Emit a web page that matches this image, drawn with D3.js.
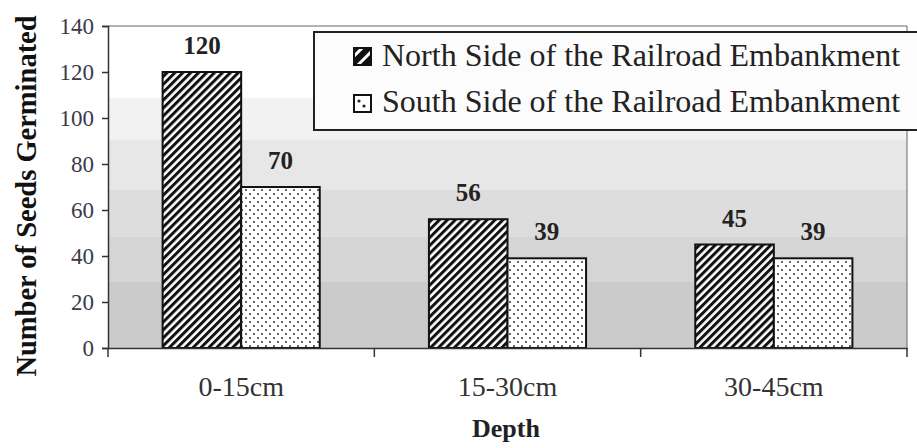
<!DOCTYPE html>
<html><head><meta charset="utf-8">
<script src="https://cdn.jsdelivr.net/npm/d3@7"></script>
<style>html,body{margin:0;padding:0;background:#fff;}svg{display:block;}</style>
</head><body>
<script>
const categories = ["0-15cm", "15-30cm", "30-45cm"];
const seriesNames = ["North Side of the Railroad Embankment", "South Side of the Railroad Embankment"];
const northValues = [120, 56, 45];
const southValues = [70, 39, 39];
const yTicks = [0, 20, 40, 60, 80, 100, 120, 140];
const yTitle = "Number of Seeds Germinated";
const xTitle = "Depth";

(function(){
const W = 917, H = 448;
const pL = 108, pR = 907, pT = 26, pB = 348;
const serif = "'Liberation Serif','Times New Roman',Times,serif";

const svg = d3.select("body").append("svg").attr("width", W).attr("height", H);
const defs = svg.append("defs");

const bg = defs.append("linearGradient").attr("id","bg").attr("x1",0).attr("y1",0).attr("x2",0).attr("y2",1);
const bandStops = [[0,"#ffffff"],[0.225,"#ffffff"],[0.225,"#f2f2f2"],[0.355,"#f2f2f2"],[0.355,"#e7e7e7"],[0.51,"#e7e7e7"],[0.51,"#dddddd"],[0.655,"#dddddd"],[0.655,"#d5d5d5"],[0.795,"#d5d5d5"],[0.795,"#cbcbcb"],[1,"#cbcbcb"]];
bandStops.forEach(s => bg.append("stop").attr("offset", s[0]).attr("stop-color", s[1]));

const hatch = defs.append("pattern").attr("id","hatch").attr("patternUnits","userSpaceOnUse")
  .attr("width",5.6).attr("height",5.6).attr("patternTransform","rotate(45)");
hatch.append("rect").attr("width",5.6).attr("height",5.6).attr("fill","#fff");
hatch.append("rect").attr("width",3).attr("height",5.6).attr("fill","#111");

const dots = defs.append("pattern").attr("id","dots").attr("patternUnits","userSpaceOnUse")
  .attr("width",8).attr("height",8);
dots.append("rect").attr("width",8).attr("height",8).attr("fill","#fff");
dots.append("circle").attr("cx",2).attr("cy",2).attr("r",1).attr("fill","#333");
dots.append("circle").attr("cx",6).attr("cy",6).attr("r",1).attr("fill","#333");

const hatchL = defs.append("pattern").attr("id","hatchL").attr("patternUnits","userSpaceOnUse")
  .attr("width",9).attr("height",9).attr("patternTransform","translate(353,48) rotate(45)");
hatchL.append("rect").attr("width",9).attr("height",9).attr("fill","#111");
hatchL.append("rect").attr("x",5).attr("width",3).attr("height",9).attr("fill","#fff");

const dotsL = defs.append("pattern").attr("id","dotsL").attr("patternUnits","userSpaceOnUse")
  .attr("x",353).attr("y",95).attr("width",18).attr("height",18);
dotsL.append("rect").attr("width",18).attr("height",18).attr("fill","#fff");
dotsL.append("circle").attr("cx",6).attr("cy",6).attr("r",1.6).attr("fill","#222");
dotsL.append("circle").attr("cx",11).attr("cy",11).attr("r",1.6).attr("fill","#222");

const x0 = d3.scaleBand().domain(categories).range([pL, pR]).paddingInner(0.41).paddingOuter(0.205);
const x1 = d3.scaleBand().domain(seriesNames).range([0, x0.bandwidth()]);
const y = d3.scaleLinear().domain([0, 140]).range([pB, pT]);

svg.append("rect").attr("x",pL).attr("y",pT).attr("width",pR-pL).attr("height",pB-pT).attr("fill","url(#bg)");
svg.append("line").attr("x1",pL).attr("x2",pR).attr("y1",pT).attr("y2",pT).attr("stroke","#666").attr("stroke-width",1);
svg.append("line").attr("x1",pR).attr("x2",pR).attr("y1",pT).attr("y2",pB).attr("stroke","#666").attr("stroke-width",1);

const data = categories.map((c,i) => ({cat:c, vals:[northValues[i], southValues[i]]}));
const fills = ["url(#hatch)","url(#dots)"];
const g = svg.append("g");
data.forEach(d => {
  d.vals.forEach((v,j) => {
    const bx = x0(d.cat) + x1(seriesNames[j]);
    g.append("rect").attr("x", bx).attr("y", y(v)).attr("width", x1.bandwidth()).attr("height", y(0)-y(v))
      .attr("fill", fills[j]).attr("stroke","#111").attr("stroke-width",2);
    g.append("text").attr("x", bx + x1.bandwidth()/2).attr("y", y(v) - 18)
      .attr("text-anchor","middle").style("font-family",serif).attr("font-weight","bold")
      .attr("font-size",25).attr("fill","#222").text(v);
  });
});

const yAxis = svg.append("g").attr("transform",`translate(${pL},0)`)
  .call(d3.axisLeft(y).tickValues(yTicks).tickSize(6).tickPadding(8));
yAxis.attr("font-family", null).attr("font-size", null);
yAxis.select(".domain").attr("stroke","#333").attr("stroke-width",1.5);
yAxis.selectAll(".tick line").attr("stroke","#333").attr("stroke-width",1.5);
yAxis.selectAll(".tick text").style("font-family",serif).style("font-size","23px").attr("fill","#3a3a4a");

const xAxis = svg.append("g").attr("transform",`translate(0,${pB})`)
  .call(d3.axisBottom(x0).tickSize(0).tickPadding(28));
xAxis.attr("font-family", null).attr("font-size", null);
xAxis.select(".domain").attr("stroke","#333").attr("stroke-width",1.5);
xAxis.selectAll(".tick text").style("font-family",serif).style("font-size","28px").attr("fill","#333");
const boundaries = d3.range(categories.length + 1).map(i => pL + i * (pR-pL)/categories.length);
svg.append("g").selectAll("line").data(boundaries).join("line")
  .attr("x1", d => d).attr("x2", d => d).attr("y1", pB).attr("y2", pB + 9)
  .attr("stroke","#333").attr("stroke-width",1.5);

svg.append("text").attr("transform","translate(36,196) rotate(-90)").attr("text-anchor","middle")
  .style("font-family",serif).attr("font-weight","bold").attr("font-size",28.5).attr("fill","#111").text(yTitle);
svg.append("text").attr("x",506).attr("y",437).attr("text-anchor","middle")
  .style("font-family",serif).attr("font-weight","bold").attr("font-size",26).attr("fill","#222").text(xTitle);

const leg = svg.append("g");
leg.append("rect").attr("x",314).attr("y",32).attr("width",640).attr("height",98)
  .attr("fill","#fcfcfc").attr("stroke","#222").attr("stroke-width",2);
const legFills = ["url(#hatchL)","url(#dotsL)"];
const legY = [48, 95];
const legBase = [66, 112];
seriesNames.forEach((s,i) => {
  leg.append("rect").attr("x",354).attr("y",legY[i]).attr("width",17).attr("height",17)
    .attr("fill",legFills[i]).attr("stroke","#111").attr("stroke-width",2);
  leg.append("text").attr("x",382).attr("y",legBase[i]).style("font-family",serif)
    .attr("font-size",32).attr("fill","#222").text(s);
});
})();
</script>
</body></html>
